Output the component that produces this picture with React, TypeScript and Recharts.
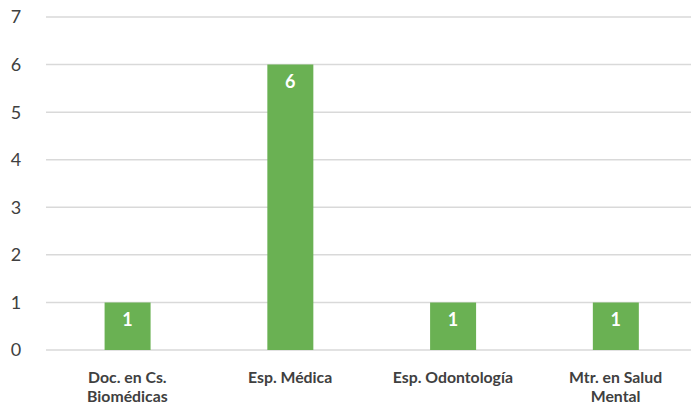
import { BarChart, Bar, XAxis, YAxis, CartesianGrid, LabelList } from 'recharts';

const PROGRAMAS = ['Doc. en Cs.\nBiomédicas', 'Esp. Médica', 'Esp. Odontología', 'Mtr. en Salud\nMental'];
const CANTIDAD = [1, 6, 1, 1];
const Y_TICKS = [0, 1, 2, 3, 4, 5, 6, 7];

const data = PROGRAMAS.map((p, i) => ({ programa: p, cantidad: CANTIDAD[i] }));

const FONT = 'Lato, "Open Sans", sans-serif';

function CategoryTick({ x, y, payload }: any) {
    const lines = String(payload.value).split('\n');
    return (
        <text x={x} y={y} textAnchor="middle" fill="#404040" fontFamily={FONT} fontSize={15.8} fontWeight={700}>
            {lines.map((l, i) => (
                <tspan key={i} x={x} dy={i === 0 ? 25 : 19}>{l}</tspan>
            ))}
        </text>
    );
}

export default function App() {
    return (
        <div style={{ position: 'absolute', left: 0, top: 0, width: 691, height: 408, overflow: 'hidden', background: '#fff' }}>
            <BarChart
                width={697}
                height={408}
                data={data}
                margin={{ top: 17, right: 0, left: 0, bottom: 0 }}
                barCategoryGap="36%"
            >
                <CartesianGrid vertical={false} stroke="#d9d9d9" strokeWidth={1.5} />
                <XAxis
                    dataKey="programa"
                    axisLine={false}
                    tickLine={false}
                    interval={0}
                    height={58}
                    tick={<CategoryTick />}
                />
                <YAxis
                    domain={[0, 7]}
                    ticks={Y_TICKS}
                    axisLine={false}
                    tickLine={false}
                    width={46}
                    interval={0}
                    tick={{ fill: '#404040', fontSize: 18, fontFamily: FONT, textAnchor: 'middle', dx: -22 }}
                />
                <Bar dataKey="cantidad" fill="#6ab153" isAnimationActive={false}>
                    <LabelList
                        dataKey="cantidad"
                        position="insideTop"
                        offset={11}
                        fill="#ffffff"
                        fontFamily={FONT}
                        fontSize={18}
                        fontWeight={700}
                    />
                </Bar>
            </BarChart>
        </div>
    );
}
